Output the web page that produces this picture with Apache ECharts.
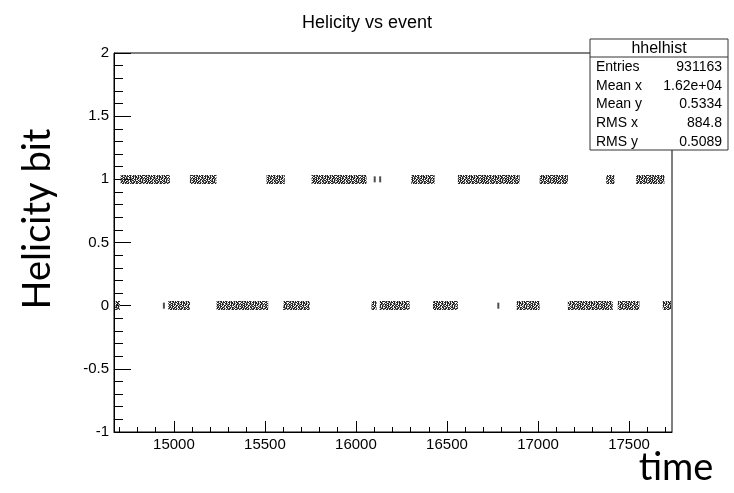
<!DOCTYPE html>
<html>
<head>
<meta charset="utf-8">
<script src="https://cdn.jsdelivr.net/npm/echarts@6/dist/echarts.min.js"></script>
<style>
  html, body { margin: 0; padding: 0; background: #fff; }
  #chart { width: 734px; height: 493px; }
</style>
</head>
<body>
<div id="chart"></div>
<script>
// Axis ranges of the histogram
const X_MIN = 14671, X_MAX = 17736;
const Y_MIN = -1, Y_MAX = 2;

// Tick positions along the event axis
const xMajorTicks = [15000, 15500, 16000, 16500, 17000, 17500];
const xMinorTicks = [14700, 14800, 14900, 15100, 15200, 15300, 15400,
  15600, 15700, 15800, 15900, 16100, 16200, 16300, 16400,
  16600, 16700, 16800, 16900, 17100, 17200, 17300, 17400,
  17600, 17700];

// Event runs [first event, last event] while the helicity bit is 1
const helicity1Runs = [
  [14707, 14978], [15088, 15234], [15509, 15609], [15756, 16058],
  [16304, 16432], [16560, 16899], [17009, 17164], [17375, 17420],
  [17539, 17694]
];
// Event runs while the helicity bit is 0
const helicity0Runs = [
  [14676, 14704], [14969, 15088], [15234, 15518], [15600, 15746],
  [16085, 16113], [16130, 16295], [16423, 16560], [16883, 17009],
  [17164, 17411], [17438, 17557], [17685, 17731]
];
// Isolated events outside the runs
const stray1Events = [16103, 16133];
const stray0Events = [14945, 16782];

// Statistics box
const statsTitle = 'hhelhist';
const statLabels = ['Entries', 'Mean x', 'Mean y', 'RMS x', 'RMS y'];
const statValues = ['931163', '1.62e+04', '0.5334', '884.8', '0.5089'];

// ---- styling ----
const FONT = '"Liberation Sans", Arial, Helvetica, sans-serif';
const BIG_FONT = 'Lato, "Open Sans", sans-serif';
const BAND_HEIGHT = 0.072; // vertical spread of the event cloud, in y units

// speckled fill used for the dense event clouds
const SPECKLE = [
  '#+#.##.+#.#+##.#..#+#.#+',
  '.##+#.##+.##.+#+##.##+#.',
  '##.#+##.#+.#+##.#+#.+##+',
  '+.##.#+##.#+##.+##.##+.#',
  '#+#+##.#.##+.#+#.+#+#.##',
  '.##.+#+##.#.##+##.#.##+.',
  '#.+##.#+.##+.#.##+#+.##.',
  '+##.#+##.+#+##.#.##.##+#',
  '.#+##.#.##.#+.##+#.+#.#+'
];
function makeSpeckle() {
  const c = document.createElement('canvas');
  c.width = SPECKLE[0].length;
  c.height = SPECKLE.length;
  const ctx = c.getContext('2d');
  SPECKLE.forEach((row, y) => {
    for (let x = 0; x < row.length; x++) {
      const ch = row[x];
      if (ch === '#') { ctx.fillStyle = '#262626'; ctx.fillRect(x, y, 1, 1); }
      else if (ch === '+') { ctx.fillStyle = '#9a9a9a'; ctx.fillRect(x, y, 1, 1); }
    }
  });
  return c;
}
const speckleFill = { image: makeSpeckle(), repeat: 'repeat' };

function runData(runs, level) {
  return runs.map(r => [r[0], r[1], level]);
}

function renderRun(params, api) {
  const lvl = api.value(2);
  const p0 = api.coord([api.value(0), lvl]);
  const p1 = api.coord([api.value(1), lvl]);
  const h = api.size([0, BAND_HEIGHT])[1];
  return {
    type: 'rect',
    shape: { x: p0[0], y: Math.round(p0[1] - h / 2), width: Math.max(p1[0] - p0[0], 2), height: Math.round(h) },
    style: { fill: speckleFill }
  };
}

const chart = echarts.init(document.getElementById('chart'), null, { renderer: 'canvas' });

const boxX = 590, boxY = 39, boxW = 138, boxH = 111, headH = 18, rowH = 18.7;
const statElems = [
  { type: 'rect', shape: { x: boxX, y: boxY, width: boxW, height: boxH },
    style: { fill: '#fff', stroke: '#333', lineWidth: 1 } },
  { type: 'line', shape: { x1: boxX, y1: boxY + headH, x2: boxX + boxW, y2: boxY + headH },
    style: { stroke: '#333', lineWidth: 1 } },
  { type: 'text', x: boxX + boxW / 2, y: boxY + headH / 2 + 0.5,
    style: { text: statsTitle, align: 'center', verticalAlign: 'middle', font: '16px ' + FONT, fill: '#000' } }
];
statLabels.forEach((lab, i) => {
  const cy = boxY + headH + 10 + i * rowH;
  statElems.push({ type: 'text', x: boxX + 6, y: cy,
    style: { text: lab, align: 'left', verticalAlign: 'middle', font: '14px ' + FONT, fill: '#000' } });
  statElems.push({ type: 'text', x: boxX + boxW - 6, y: cy,
    style: { text: statValues[i], align: 'right', verticalAlign: 'middle', font: '14px ' + FONT, fill: '#000' } });
});

const axisCommon = {
  type: 'value',
  min: X_MIN, max: X_MAX,
  splitLine: { show: false }
};

chart.setOption({
  animation: false,
  backgroundColor: '#fff',
  title: {
    text: 'Helicity vs event',
    left: 'center', top: 9,
    textStyle: { fontFamily: FONT, fontSize: 18, fontWeight: 'normal', color: '#000' }
  },
  grid: {
    left: 114, right: 62, top: 53, bottom: 61,
    show: true, borderColor: '#000', borderWidth: 1, backgroundColor: 'transparent'
  },
  xAxis: [
    Object.assign({}, axisCommon, {
      position: 'bottom',
      axisLine: { show: true, onZero: false, lineStyle: { color: '#000', width: 1 } },
      axisTick: { show: true, inside: true, length: 11, customValues: xMajorTicks, lineStyle: { color: '#000' } },
      axisLabel: { show: true, customValues: xMajorTicks, margin: 5, fontFamily: FONT, fontSize: 15, color: '#000',
        formatter: v => String(v) }
    }),
    Object.assign({}, axisCommon, {
      position: 'bottom',
      axisLine: { show: false, onZero: false },
      axisTick: { show: true, inside: true, length: 5, customValues: xMinorTicks, lineStyle: { color: '#000' } },
      axisLabel: { show: false }
    })
  ],
  yAxis: {
    type: 'value',
    min: Y_MIN, max: Y_MAX, interval: 0.5,
    splitLine: { show: false },
    axisLine: { show: true, onZero: false, lineStyle: { color: '#000', width: 1 } },
    axisTick: { show: true, inside: true, length: 17, lineStyle: { color: '#000' } },
    minorTick: { show: true, splitNumber: 5, length: 9, lineStyle: { color: '#000' } },
    axisLabel: { margin: 5, fontFamily: FONT, fontSize: 15, color: '#000' }
  },
  series: [
    { type: 'custom', name: 'helicity 1', xAxisIndex: 0, renderItem: renderRun,
      data: runData(helicity1Runs, 1), clip: true },
    { type: 'custom', name: 'helicity 0', xAxisIndex: 0, renderItem: renderRun,
      data: runData(helicity0Runs, 0), clip: true },
    { type: 'scatter', xAxisIndex: 0, symbol: 'rect', symbolSize: [2, 6],
      itemStyle: { color: '#222' },
      data: stray1Events.map(x => [x, 1]).concat(stray0Events.map(x => [x, 0])) }
  ],
  graphic: [
    { type: 'group', z: 100, children: statElems },
    { type: 'text', z: 100, x: 38, y: 219, rotation: Math.PI / 2,
      style: { text: 'Helicity bit', align: 'center', verticalAlign: 'middle', font: '38px ' + BIG_FONT, fill: '#000' } },
    { type: 'text', z: 100, x: 676, y: 468,
      style: { text: 'time', align: 'center', verticalAlign: 'middle', font: '38px ' + BIG_FONT, fill: '#000' } }
  ]
});
</script>
</body>
</html>
